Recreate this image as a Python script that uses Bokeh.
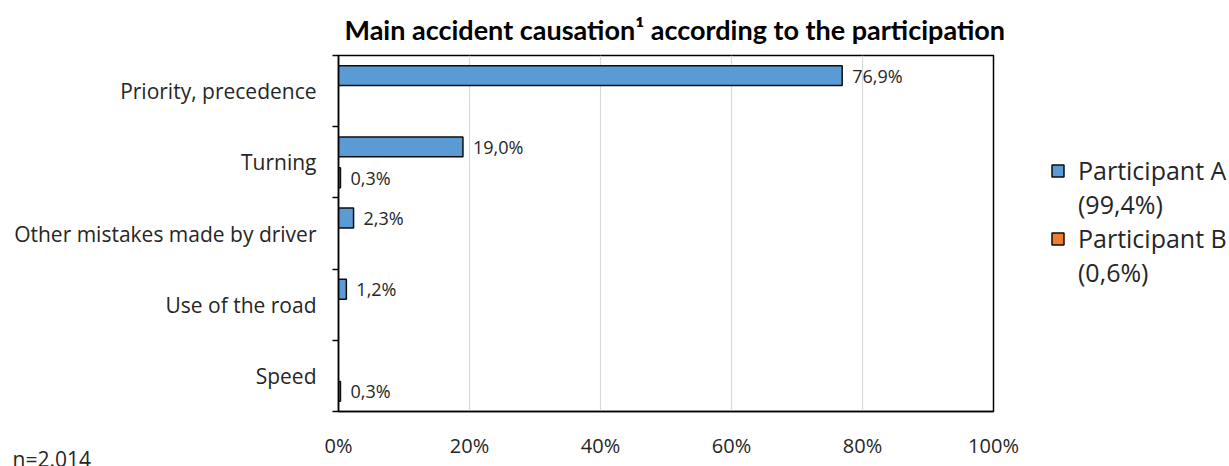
from bokeh.plotting import figure
from bokeh.models import ColumnDataSource, FixedTicker, Legend, LegendItem, Range1d, Title
from bokeh.core.properties import value
from bokeh.embed import file_html
from bokeh.resources import INLINE

# Causes, listed from top to bottom
categories = ["Priority, precedence", "Turning", "Other mistakes made by driver",
              "Use of the road", "Speed"]
participant_a = [76.9, 19.0, 2.3, 1.2, 0.0]
participant_b = [0.0, 0.3, 0.0, 0.0, 0.3]
series_names = ["Participant A", "Participant B"]
series_shares = ["(99,4%)", "(0,6%)"]
x_ticks = [0, 20, 40, 60, 80, 100]

FONT = "Open Sans"
TITLE_FONT = "Lato"
BLUE = "#5B9BD5"
ORANGE = "#ED7D31"
TEXT = "#262626"

LEFT, RIGHT, TOP, BOTTOM = 338, 236, 55, 55
FRAME_W, FRAME_H = 655, 356

n = len(categories)
centers = [n - 0.5 - i for i in range(n)]
bar_h = 0.28
off = 0.217


def fmt(v):
    return f"{v:.1f}".replace(".", ",") + "%"


p = figure(frame_width=FRAME_W, frame_height=FRAME_H,
           output_backend="svg", toolbar_location=None,
           x_range=Range1d(0, 100), y_range=Range1d(0, n),
           min_border_left=LEFT, min_border_right=RIGHT,
           min_border_top=TOP, min_border_bottom=BOTTOM)
p.background_fill_color = "white"
p.border_fill_color = "white"
p.outline_line_color = "black"
p.outline_line_width = 1.5

# bars: A sits above the band centre, B below it
bar_renderers = []
for vals, color, shift in ((participant_a, BLUE, off), (participant_b, ORANGE, -off)):
    ys = [c + shift for c, v in zip(centers, vals) if v > 0]
    xs = [v for v in vals if v > 0]
    src = ColumnDataSource(dict(y=ys, right=xs, label=[fmt(v) for v in xs]))
    r = p.hbar(y="y", left=0, right="right", height=bar_h, source=src,
               fill_color=color, line_color="#0d0d0d", line_width=1.5)
    bar_renderers.append(r)
    p.text(x="right", y="y", text="label", source=src, x_offset=10,
           text_align="left", text_baseline="middle",
           text_font=value(FONT), text_font_size="18px", text_color=TEXT)

# an empty, invisible renderer for the second line of each legend entry
blank = p.hbar(y=[], left=0, right=[], height=bar_h,
               fill_alpha=0, line_alpha=0)

# x axis
p.xaxis.ticker = FixedTicker(ticks=x_ticks)
p.xaxis.major_label_overrides = {t: f"{t}%" for t in x_ticks}
p.xaxis.major_tick_line_color = None
p.xaxis.minor_tick_line_color = None
p.xaxis.major_tick_out = 0
p.xaxis.major_label_standoff = 20
p.xaxis.major_label_text_font = FONT
p.xaxis.major_label_text_font_size = "20px"
p.xaxis.major_label_text_color = TEXT
p.xaxis.axis_line_color = "black"
p.xaxis.axis_line_width = 1.5

# y axis: names at band centres, tick marks on band edges
p.yaxis.ticker = FixedTicker(ticks=centers, minor_ticks=list(range(n + 1)))
p.yaxis.major_label_overrides = {c: name for c, name in zip(centers, categories)}
p.yaxis.major_tick_line_color = None
p.yaxis.major_tick_out = 0
p.yaxis.major_tick_in = 0
p.yaxis.minor_tick_out = 6
p.yaxis.minor_tick_in = 0
p.yaxis.minor_tick_line_color = "black"
p.yaxis.minor_tick_line_width = 1.5
p.yaxis.major_label_standoff = 16
p.yaxis.major_label_text_font = FONT
p.yaxis.major_label_text_font_size = "21px"
p.yaxis.major_label_text_color = TEXT
p.yaxis.axis_line_color = "black"
p.yaxis.axis_line_width = 1.5

p.xgrid.grid_line_color = "#d9d9d9"
p.xgrid.grid_line_width = 1.2
p.ygrid.grid_line_color = None

# title above the frame
p.title.text = "Main accident causation¹ according to the participation"
p.title.align = "left"
p.title.offset = 6
p.title.standoff = 19
p.title.text_font = TITLE_FONT
p.title.text_font_size = "27px"
p.title.text_font_style = "bold"
p.title.text_color = "black"

# sample size note in the lower left corner
p.add_layout(Title(text="n=2.014", align="left", offset=12 - LEFT,
                   vertical_align="top", standoff=-34,
                   text_font=FONT, text_font_size="21px",
                   text_font_style="normal", text_color=TEXT), "below")

# legend to the right of the frame
items = []
for name, share, r in zip(series_names, series_shares, bar_renderers):
    items.append(LegendItem(label=name, renderers=[r]))
    items.append(LegendItem(label=share, renderers=[blank]))
legend = Legend(items=items, location=(57, 122), orientation="vertical",
                glyph_width=15, glyph_height=15, label_standoff=13,
                label_text_font=FONT, label_text_font_size="25px",
                label_text_color=TEXT, label_height=30, spacing=0,
                padding=0, margin=0, border_line_color=None,
                background_fill_alpha=0)
p.add_layout(legend, "right")

open("out.html", "w").write(file_html(p, INLINE))
